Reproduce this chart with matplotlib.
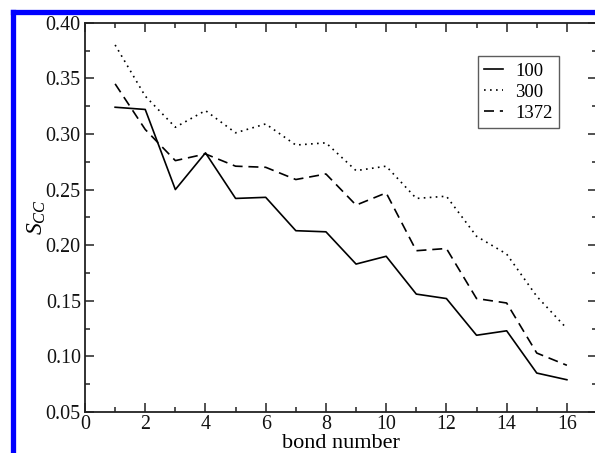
import matplotlib
matplotlib.use("Agg")
import matplotlib.pyplot as plt
from matplotlib.lines import Line2D
from matplotlib.ticker import MultipleLocator, FormatStrFormatter

plt.rcParams['font.family'] = ['Liberation Serif', 'DejaVu Serif']
plt.rcParams['mathtext.fontset'] = 'custom'
plt.rcParams['mathtext.rm'] = 'Liberation Serif'
plt.rcParams['mathtext.it'] = 'Liberation Serif:italic'

bond = [1, 2, 3, 4, 5, 6, 7, 8, 9, 10, 11, 12, 13, 14, 15, 16]
s100 = [0.324, 0.322, 0.250, 0.283, 0.242, 0.243, 0.213, 0.212, 0.183, 0.190,
        0.156, 0.152, 0.119, 0.123, 0.085, 0.079]
s300 = [0.380, 0.334, 0.306, 0.321, 0.301, 0.309, 0.290, 0.292, 0.267, 0.271,
        0.242, 0.244, 0.208, 0.192, 0.154, 0.125]
s1372 = [0.345, 0.304, 0.276, 0.282, 0.271, 0.270, 0.259, 0.264, 0.236, 0.247,
         0.195, 0.197, 0.152, 0.148, 0.103, 0.092]
labels = ['100', '300', '1372']

W, H = 595, 453
fig = plt.figure(figsize=(W / 100, H / 100), dpi=100)
ax = fig.add_axes([85 / W, (H - 412) / H, (597 - 85) / W, (412 - 22.7) / H])

ax.plot(bond, s100, color='black', lw=1.2, ls='-', label=labels[0])
ax.plot(bond, s300, color='black', lw=1.2, ls=(0, (1, 2.6)), label=labels[1])
ax.plot(bond, s1372, color='black', lw=1.2, ls=(0, (6, 3.5)), label=labels[2])

ax.set_xlim(0, 17)
ax.set_ylim(0.05, 0.40)
ax.xaxis.set_major_locator(MultipleLocator(2))
ax.xaxis.set_minor_locator(MultipleLocator(1))
ax.yaxis.set_major_locator(MultipleLocator(0.05))
ax.yaxis.set_minor_locator(MultipleLocator(0.025))
ax.yaxis.set_major_formatter(FormatStrFormatter('%.2f'))
ax.tick_params(which='both', direction='in', top=True, right=True,
               labelsize=14.4, width=1.1, color='#222222', labelcolor='#111111')
ax.tick_params(which='major', length=6.5, pad=3)
ax.tick_params(axis='x', which='major', pad=2)
ax.tick_params(which='minor', length=3.6)
for sp in ax.spines.values():
    sp.set_linewidth(1.3)
    sp.set_color('#222222')

ax.set_xlabel('bond number', fontsize=16, labelpad=0.5)
ax.set_ylabel(r'$S_{CC}$', fontsize=17, labelpad=-2)

leg = ax.legend(loc='upper left', bbox_to_anchor=((477.7 - 85) / 512, (412 - 56) / 389.3),
                fontsize=13.4, frameon=True, fancybox=False,
                handlelength=1.0, handletextpad=0.65, borderpad=0.35,
                labelspacing=0.22, borderaxespad=0)
leg.get_frame().set_edgecolor('#333333')
leg.get_frame().set_linewidth(1.0)

# blue frame (left and top edges)
fig.add_artist(Line2D([12.5 / W, 12.5 / W], [-0.05, (H - 11.5) / H], color='#0000ff',
                      lw=3.8, solid_capstyle='projecting', transform=fig.transFigure))
fig.add_artist(Line2D([12.5 / W, 1.05], [(H - 11.5) / H, (H - 11.5) / H], color='#0000ff',
                      lw=3.8, solid_capstyle='projecting', transform=fig.transFigure))

fig.savefig('out.png', dpi=100)
